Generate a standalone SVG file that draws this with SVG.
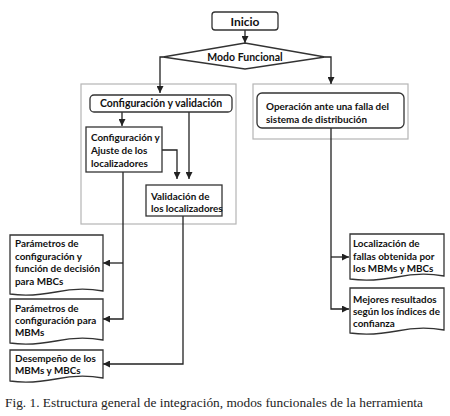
<svg xmlns="http://www.w3.org/2000/svg" width="450" height="416" viewBox="0 0 450 416">
<defs>
<marker id="ah" viewBox="0 0 10 10" refX="10" refY="5" markerWidth="7" markerHeight="7" markerUnits="userSpaceOnUse" orient="auto">
<path d="M0,0 L10,5 L0,10 Z" fill="#222"/>
</marker>
<style>
.box{fill:#fff;stroke:#333;stroke-width:1.3}
.grp{fill:none;stroke:#b5b5b5;stroke-width:1.2}
.t{font-family:Lato,"Open Sans","Liberation Sans",sans-serif;font-weight:bold;font-size:9.9px;fill:#111}
.c{text-anchor:middle}
.ln{fill:none;stroke:#222;stroke-width:1.3}
.ar{marker-end:url(#ah)}
.cap{font-family:"Liberation Serif",serif;font-size:12.5px;fill:#222}
</style>
</defs>
<rect width="450" height="416" fill="#fff"/>

<g id="groups">
<rect class="grp" x="81" y="84" width="155" height="140"/>
<rect class="grp" x="253" y="84" width="155" height="55"/>
</g>

<g id="connectors">
<path class="ln ar" d="M245,30 V43"/>
<path class="ln ar" d="M163,57 H160 V93"/>
<path class="ln ar" d="M325,57 H331 V84"/>
<path class="ln ar" d="M122,112 V126"/>
<path class="ln ar" d="M162,150 H177 V179"/>
<path class="ln ar" d="M189,112 V179"/>
<path class="ln ar" d="M123,172 V319 H103"/>
<path class="ln ar" d="M123,263 H103"/>
<path class="ln ar" d="M183,216 V364 H103"/>
<path class="ln ar" d="M331,128 V309 H349"/>
<path class="ln ar" d="M331,257 H349"/>
</g>

<g id="inicio">
<rect class="box" x="212" y="12" width="66" height="18" rx="3"/>
<text class="t c" x="245" y="25.5" style="font-size:12px">Inicio</text>
</g>

<g id="modo">
<polygon class="box" points="163,57 245,43 325,57 245,69"/>
<text class="t c" x="245" y="60.5" style="font-size:10.5px">Modo Funcional</text>
</g>

<g id="config-valid">
<rect class="box" x="90" y="95" width="142" height="17" rx="4"/>
<text class="t c" x="161" y="107" style="font-size:10.5px">Configuración  y validación</text>
</g>

<g id="config-ajuste">
<rect class="box" x="86" y="127" width="76" height="45"/>
<text class="t" x="91" y="141">Configuración y</text>
<text class="t" x="91" y="154">Ajuste de los</text>
<text class="t" x="91" y="167">localizadores</text>
</g>

<g id="validacion">
<rect class="box" x="146" y="185" width="76" height="31"/>
<text class="t" x="151" y="200">Validación de</text>
<text class="t" x="151" y="212">los localizadores</text>
</g>

<g id="operacion">
<rect class="box" x="257" y="93" width="147" height="35" rx="5"/>
<text class="t" x="266" y="110">Operación ante una falla del</text>
<text class="t" x="266" y="123">sistema de distribución</text>
</g>

<g id="doc-mbc">
<path class="box" d="M10,235 H103 V291 Q80,287 56,292 Q30,297 10,294 Z"/>
<text class="t" x="15" y="247">Parámetros de</text>
<text class="t" x="15" y="260">configuración y</text>
<text class="t" x="15" y="272">función de decisión</text>
<text class="t" x="15" y="285">para MBCs</text>
</g>

<g id="doc-mbm">
<path class="box" d="M10,299 H103 V340 Q80,336 56,341 Q30,346 10,343 Z"/>
<text class="t" x="15" y="312">Parámetros de</text>
<text class="t" x="15" y="324">configuración para</text>
<text class="t" x="15" y="336">MBMs</text>
</g>

<g id="doc-desempeno">
<path class="box" d="M10,350 H103 V378 Q80,374 56,379 Q30,384 10,381 Z"/>
<text class="t" x="15" y="362">Desempeño de los</text>
<text class="t" x="15" y="374">MBMs y MBCs</text>
</g>

<g id="doc-localizacion">
<path class="box" d="M350,234 H444 V276 Q421,272 397,277 Q371,282 350,279 Z"/>
<text class="t" x="353" y="247">Localización de</text>
<text class="t" x="353" y="260">fallas obtenida por</text>
<text class="t" x="353" y="272">los MBMs y MBCs</text>
</g>

<g id="doc-mejores">
<path class="box" d="M350,288 H444 V330 Q421,326 397,331 Q371,336 350,333 Z"/>
<text class="t" x="353" y="303">Mejores resultados</text>
<text class="t" x="353" y="315">según los índices de</text>
<text class="t" x="353" y="327">confianza</text>
</g>

<text class="cap" x="5" y="407" textLength="418" lengthAdjust="spacingAndGlyphs">Fig. 1. Estructura general de integración, modos funcionales de la herramienta</text>
</svg>
